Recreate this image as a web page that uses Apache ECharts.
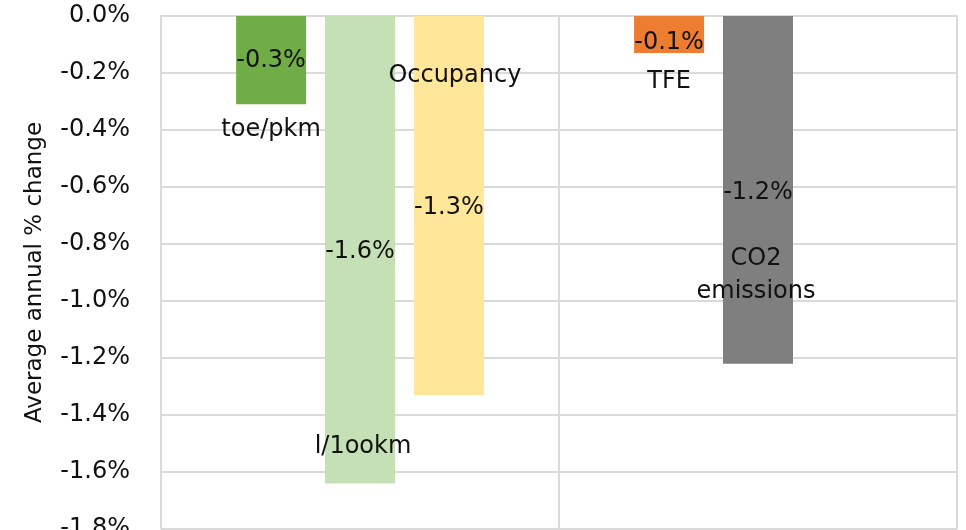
<!DOCTYPE html>
<html>
<head>
<meta charset="utf-8">
<script src="https://cdn.jsdelivr.net/npm/echarts@6/dist/echarts.min.js"></script>
<style>
  html, body { margin: 0; padding: 0; background: #fff; }
  #chart { width: 966px; height: 530px; }
</style>
</head>
<body>
<div id="chart"></div>
<script>
// two groups: drivers of the change, and the outcomes
var categories = ['Drivers', 'Outcomes'];

// one array per bar slot in each group
var slot1Values = [-0.31, -0.13];   // toe/pkm, TFE
var slot2Values = [-1.64, -1.22];   // l/1ookm, CO2 emissions
var slot3Values = [-1.33, null];    // Occupancy

var slot1Names = ['toe/pkm', 'TFE'];
var slot2Names = ['l/1ookm', 'CO2\nemissions'];
var slot3Names = ['Occupancy', ''];

var yTicks = [0, -0.2, -0.4, -0.6, -0.8, -1.0, -1.2, -1.4, -1.6, -1.8];

// where the name text boxes sit (value axis units)
var slot1NameAt = [-0.40, -0.23];
var slot2NameAt = [-1.51, -0.91];
var slot3NameAt = [-0.21, null];

var FONT = 'DejaVu Sans';
var TXT = '#111';

function pct(v) {
	return v.toFixed(1) + '%';
}

function makeSeries(values, names, nameAt, colors, valOffsets, nameOffsets) {
	var data = [];
	var marks = [];
	for (let i = 0; i < values.length; i++) {
		if (values[i] == null) {
			data.push(null);
			continue;
		}
		data.push({
			value: values[i],
			itemStyle: { color: colors[i] },
			label: { offset: valOffsets[i] }
		});
		if (names[i]) {
			marks.push({
				name: names[i],
				coord: [i, nameAt[i]],
				label: { offset: nameOffsets[i] }
			});
		}
	}
	return {
		type: 'bar',
		barWidth: 70,
		barGap: '27%',
		data: data,
		label: {
			show: true,
			position: 'inside',
			formatter: function (p) { return pct(p.value); },
			fontFamily: FONT,
			fontSize: 24,
			color: TXT
		},
		markPoint: {
			symbol: 'rect',
			symbolSize: 0,
			itemStyle: { color: 'transparent' },
			label: {
				show: true,
				position: 'inside',
				formatter: '{b}',
				fontFamily: FONT,
				fontSize: 24,
				lineHeight: 33,
				color: TXT
			},
			data: marks
		}
	};
}

var option = {
	animation: false,
	grid: {
		left: 161,
		right: 9,
		top: 16,
		bottom: 1,
		containLabel: false,
		outerBoundsMode: 'none'
	},
	xAxis: {
		type: 'category',
		data: categories,
		axisLine: { show: true, onZero: true, lineStyle: { color: '#DADADA', width: 2 } },
		axisTick: { show: false },
		axisLabel: { show: false },
		splitLine: { show: true, lineStyle: { color: '#DADADA', width: 2 } }
	},
	yAxis: {
		type: 'value',
		min: -1.8,
		max: 0,
		interval: 0.2,
		name: 'Average annual % change',
		nameLocation: 'middle',
		nameGap: 114,
		nameTextStyle: { fontFamily: FONT, fontSize: 23, color: TXT },
		axisLine: { show: false },
		axisTick: { show: false },
		axisLabel: {
			margin: 31,
			fontFamily: FONT,
			fontSize: 24,
			color: TXT,
			formatter: function (v) {
				// snap to the listed tick labels
				for (let i = 0; i < yTicks.length; i++) {
					if (Math.abs(yTicks[i] - v) < 1e-6) return pct(Math.abs(yTicks[i]) < 1e-9 ? 0 : yTicks[i]);
				}
				return '';
			}
		},
		splitLine: { show: true, lineStyle: { color: '#DADADA', width: 2 } }
	},
	series: [
		makeSeries(slot1Values, slot1Names, slot1NameAt, ['#70AD47', '#ED7D31'], [[0, 1], [0, 8]], [[0, 0], [0, 0]]),
		makeSeries(slot2Values, slot2Names, slot2NameAt, ['#C5E0B4', '#7F7F7F'], [[0, 2], [0, 3]], [[3, 0], [-2, 0]]),
		makeSeries(slot3Values, slot3Names, slot3NameAt, ['#FFE699', null], [[0, 2], [0, 0]], [[6, 0], [0, 0]])
	]
};

var myChart = echarts.init(document.getElementById('chart'));
myChart.setOption(option);
</script>
</body>
</html>
